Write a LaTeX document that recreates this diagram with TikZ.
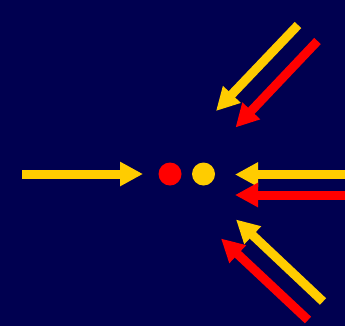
\documentclass[tikz,border=0pt]{standalone}
\usepackage{xcolor}
\usepackage{tikz}
\usetikzlibrary{arrows.meta, positioning}
\definecolor{navy}{RGB}{0,0,80}
\definecolor{gold}{RGB}{255,204,0}
\definecolor{brightred}{RGB}{255,0,0}
\tikzstyle{ray} = [line width=0.27cm, -{Triangle[length=0.69cm, width=0.69cm]}]
\tikzstyle{yray} = [ray, draw=gold, fill=gold]
\tikzstyle{rray} = [ray, draw=brightred, fill=brightred]
\tikzstyle{ball} = [circle, minimum size=0.69cm, inner sep=0pt]

\begin{document}
\begin{tikzpicture}[x=0.03cm, y=-0.03cm]
    \fill [navy] (0,0) rectangle (345,326);
    \useasboundingbox (0,0) rectangle (345,326);

    \node (redball) [ball, fill=brightred] at (170,174) {};
    \node (goldball) [ball, fill=gold] at (203.5,174) {};

    \coordinate (inL) at (22,174);
    \coordinate (tipL) at (143,174);
    \coordinate (inR) at (345,174.5);
    \coordinate (tipR) at (235,174.5);
    \coordinate (inRr) at (345,195);
    \coordinate (tipRr) at (235,195);

    \coordinate (inU) at (298,25);
    \coordinate (tipU) at (216,111);
    \coordinate (inUr) at (317.5,41);
    \coordinate (tipUr) at (235.5,127.5);

    \coordinate (inD) at (323,301.5);
    \coordinate (tipD) at (236,219.5);
    \coordinate (inDr) at (308,320);
    \coordinate (tipDr) at (221,238.5);

    \draw [yray] (inL) -- (tipL);
    \draw [yray] (inR) -- (tipR);
    \draw [rray] (inRr) -- (tipRr);

    \draw [yray] (inU) -- (tipU);
    \draw [rray] (inUr) -- (tipUr);

    \draw [yray] (inD) -- (tipD);
    \draw [rray] (inDr) -- (tipDr);
\end{tikzpicture}
\end{document}
